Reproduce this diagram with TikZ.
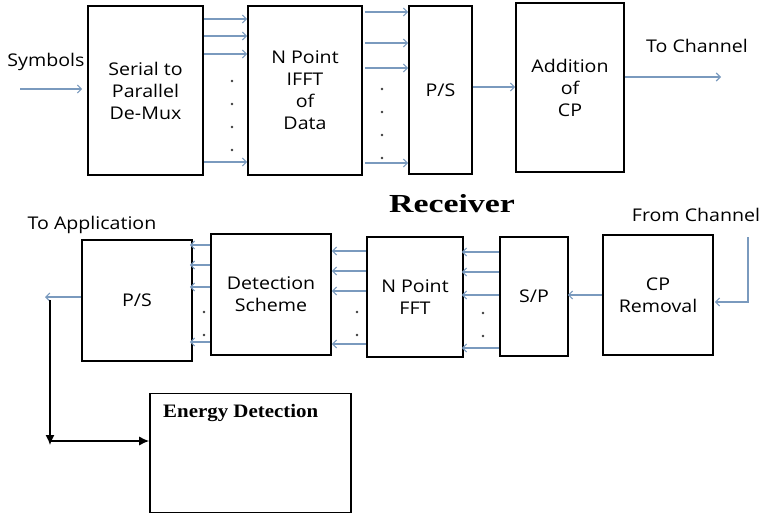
\documentclass[tikz,border=0pt]{standalone}
\usepackage{fontspec}
\usepackage{graphicx}
\usetikzlibrary{arrows.meta,calc}
\setmainfont{Open Sans}[FakeStretch=1.12]
\newfontfamily\rcvfont{Liberation Serif}[FakeStretch=1.3]
\newfontfamily\enfont{Liberation Serif}[FakeStretch=1.1]
\definecolor{flow}{RGB}{122,154,190}
\definecolor{dotc}{RGB}{60,60,60}
\tikzset{
  blk/.style={draw=black, line width=1.8pt, align=center, inner sep=0pt,
    font=\fontsize{17.5}{22}\selectfont},
  lbl/.style={inner sep=0pt, font=\fontsize{17.5}{22}\selectfont},
  flowarr/.style={draw=flow, line width=1.1pt, -{Straight Barb[length=4pt,width=8pt]}},
  blkarr/.style={draw=black, line width=1.3pt, -{Latex[length=10pt,width=9pt]}},
  dotmark/.style={fill=dotc, draw=none, circle, inner sep=0pt, minimum size=2.6pt}
}
\begin{document}
\begin{tikzpicture}[x=1pt,y=-1pt]
\useasboundingbox (0,0) rectangle (763,514);
% ---------------- transmitter ----------------
\node[blk, minimum width=115pt, minimum height=169pt] (sp) at (145.5,90.5) {Serial to\\Parallel\\De-Mux};
\node[blk, minimum width=114pt, minimum height=169pt] (ifft) at (305,90.5) {N Point\\IFFT\\of\\Data};
\node[blk, minimum width=63pt, minimum height=168pt] (ps) at (440.5,90) {P/S};
\node[blk, minimum width=108pt, minimum height=169pt] (cp) at (570,87.5) {Addition\\of\\CP};
\node[lbl] (sym) at (46,62) {Symbols};
\node[lbl] (toch) at (697,46) {To Channel};
\coordinate (symin) at (20,89);
\coordinate (chout) at (721,77);
\draw[flowarr] (symin) -- ($(symin -| sp.west)+(-5,0)$);
\foreach \yy in {19,36,54,162} \draw[flowarr] (sp.east |- 0,\yy) -- (ifft.west |- 0,\yy);
\foreach \yy in {12,43,68,163} \draw[flowarr] ($(ifft.east |- 0,\yy)+(2,0)$) -- (ps.west |- 0,\yy);
\draw[flowarr] (ps.east |- 0,87) -- (cp.west |- 0,87);
\draw[flowarr] (cp.east |- chout) -- (chout);
\foreach \yy in {81,104,127,150} \node[dotmark] at (232,\yy) {};
\foreach \yy in {89,112,135,158} \node[dotmark] at (382,\yy) {};
% ---------------- receiver ----------------
\node[inner sep=0pt, font=\rcvfont\bfseries\fontsize{26}{30}\selectfont] (rcv) at (452,204) {Receiver};
\node[lbl] (toapp) at (92,225) {To Application};
\node[lbl] (frch) at (696,215) {From Channel};
\node[blk, minimum width=110pt, minimum height=121pt] (rps) at (137,300.5) {P/S};
\node[blk, minimum width=120pt, minimum height=121pt] (det) at (271,294.5) {Detection\\Scheme};
\node[blk, minimum width=96pt, minimum height=120pt] (fft) at (415,297) {N Point\\FFT};
\node[blk, minimum width=68pt, minimum height=119pt] (rsp) at (534,296.5) {S/P};
\node[blk, minimum width=110pt, minimum height=120pt] (cpr) at (658,295) {CP\\Removal};
\coordinate (chtop) at (748,237);
\coordinate (chbend) at (748,302);
\draw[flowarr] (chtop) -- (chbend) -- ($(cpr.east |- chbend)+(1,0)$);
\draw[flowarr] (cpr.west |- 0,295) -- ($(rsp.east |- 0,295)+(-1,0)$);
\foreach \yy in {252,272,295,348} \draw[flowarr] (rsp.west |- 0,\yy) -- ($(fft.east |- 0,\yy)+(-2,0)$);
\foreach \yy in {251,271,291,344} \draw[flowarr] (fft.west |- 0,\yy) -- (det.east |- 0,\yy);
\foreach \yy in {245,265,287,342} \draw[flowarr] (det.west |- 0,\yy) -- ($(rps.east |- 0,\yy)+(-3,0)$);
\foreach \yy in {313,336} \node[dotmark] at (483,\yy) {};
\foreach \yy in {312,335} \node[dotmark] at (357,\yy) {};
\foreach \yy in {312,335} \node[dotmark] at (204,\yy) {};
\coordinate (appout) at (45,297);
\draw[flowarr] (rps.west |- appout) -- (appout);
% ---------------- energy detection ----------------
\node[draw=black, line width=1.6pt, minimum width=201pt, minimum height=119pt, inner sep=0pt] (en) at (250.5,453) {};
\node[anchor=west, inner sep=0pt, font=\enfont\bfseries\fontsize{19}{21}\selectfont] (entxt) at (163,413) {Energy Detection};
\coordinate (vtop) at (50,300);
\coordinate (vbot) at (50,445);
\coordinate (hstart) at (50,441);
\draw[blkarr] (vtop) -- (vbot);
\draw[blkarr] (hstart) -- (en.west |- hstart);
\end{tikzpicture}
\end{document}
